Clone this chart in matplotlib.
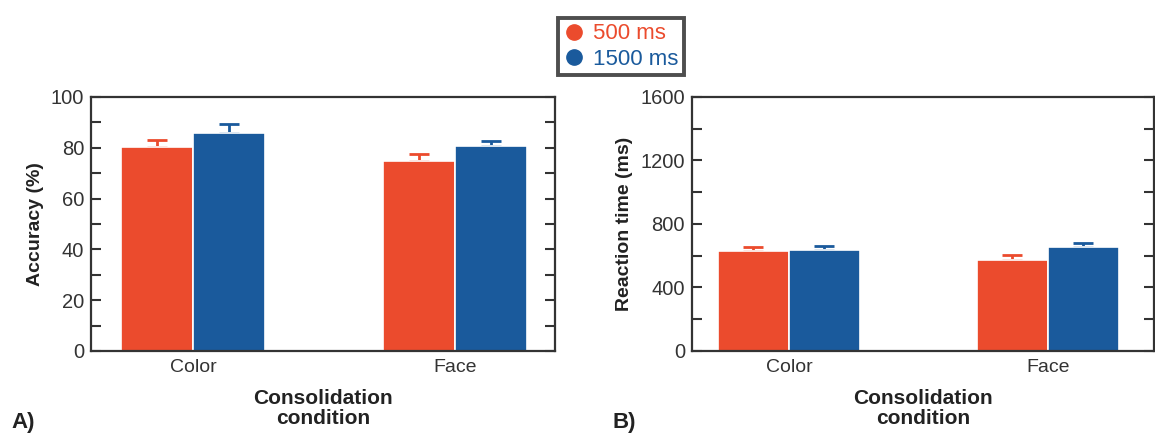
import matplotlib.pyplot as plt
import numpy as np
from matplotlib.ticker import MultipleLocator
from matplotlib.lines import Line2D

plt.rcParams['font.family'] = ['Liberation Sans', 'DejaVu Sans']

# data
conditions = ['Color', 'Face']
series = ['500 ms', '1500 ms']
acc_500 = [80.3, 74.8]
acc_500_err = [2.7, 2.8]
acc_1500 = [86.0, 80.6]
acc_1500_err = [3.2, 2.0]
rt_500 = [632, 574]
rt_500_err = [24, 28]
rt_1500 = [637, 655]
rt_1500_err = [26, 25]

red = '#EB4B2D'
blue = '#1A5A9C'
dark = '#333333'

fig = plt.figure(figsize=(11.55, 4.36), dpi=100)
axA = fig.add_axes([0.0788, 0.195, 0.4017, 0.5826])
axB = fig.add_axes([0.599, 0.195, 0.400, 0.5826])

def draw(ax, v1, e1, v2, e2, ymax, major, minor, ylabel, xlim):
    x = np.arange(len(conditions))
    w = 0.275
    ax.bar(x - w/2, v1, w, color=red, edgecolor='white', linewidth=1.2, zorder=2)
    ax.bar(x + w/2, v2, w, color=blue, edgecolor='white', linewidth=1.2, zorder=2)
    ax.errorbar(x - w/2, v1, yerr=[np.zeros(len(e1)), e1], fmt='none', ecolor=red,
                elinewidth=2, capsize=7, capthick=2, zorder=1)
    ax.errorbar(x + w/2, v2, yerr=[np.zeros(len(e2)), e2], fmt='none', ecolor=blue,
                elinewidth=2, capsize=7, capthick=2, zorder=1)
    ax.set_ylim(0, ymax)
    ax.set_xlim(*xlim)
    ax.set_xticks(x)
    ax.set_xticklabels(conditions, fontsize=14, color=dark)
    ax.yaxis.set_major_locator(MultipleLocator(major))
    ax.yaxis.set_minor_locator(MultipleLocator(minor))
    ax.tick_params(axis='y', which='both', direction='in', length=7, width=1.5,
                   right=True, colors=dark, labelsize=14.5, pad=5)
    ax.tick_params(axis='x', length=0, pad=6)
    for s in ax.spines.values():
        s.set_linewidth(1.6)
        s.set_color(dark)
    ax.set_ylabel(ylabel, fontsize=14, fontweight='bold', color='#222222', labelpad=5)
    ax.set_xlabel('Consolidation\ncondition', fontsize=15, fontweight='bold',
                  color='#222222', labelpad=9, linespacing=1.05)

draw(axA, acc_500, acc_500_err, acc_1500, acc_1500_err, 100, 20, 10,
     'Accuracy (%)', (-0.39, 1.38))
draw(axB, rt_500, rt_500_err, rt_1500, rt_1500_err, 1600, 400, 200,
     'Reaction time (ms)', (-0.375, 1.41))

fig.text(0.010, 0.018, 'A)', fontsize=16, fontweight='bold', color='#222222')
fig.text(0.530, 0.018, 'B)', fontsize=16, fontweight='bold', color='#222222')

handles = [Line2D([], [], marker='o', linestyle='none', color=red, markersize=11),
           Line2D([], [], marker='o', linestyle='none', color=blue, markersize=11)]
leg = fig.legend(handles, series, loc='center', bbox_to_anchor=(0.5375, 0.893),
                 fontsize=16, frameon=True, fancybox=False, handletextpad=0.35,
                 borderpad=0.25, labelspacing=0.2, handlelength=1.0,
                 borderaxespad=0)
leg.get_frame().set_edgecolor('#222222')
leg.get_frame().set_linewidth(2.8)
for t, c in zip(leg.get_texts(), [red, blue]):
    t.set_color(c)

fig.savefig('out.png', dpi=100)
